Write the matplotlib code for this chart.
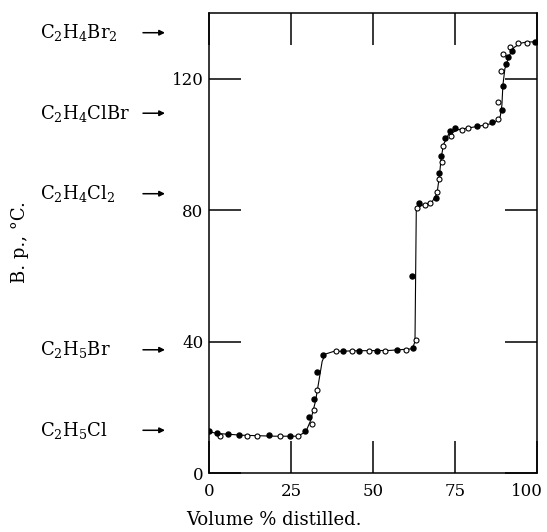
import numpy as np
import matplotlib
matplotlib.use("Agg")
import matplotlib.pyplot as plt
import matplotlib.transforms as mtransforms

plt.rcParams['font.family'] = ['DejaVu Serif']
plt.rcParams['mathtext.fontset'] = 'dejavuserif'

# filled circles (one run)
filled_x = [0, 2.4, 5.8, 9.1, 18.3, 24.7, 29.3, 30.5, 32.0, 33.0, 34.8, 40.9, 45.7,
            51.2, 57.3, 62.2, 61.9, 64.0, 69.2, 70.1, 70.7, 72.0, 73.5, 75.0, 81.7,
            86.2, 89.3, 89.6, 90.5, 91.2, 92.4, 99.4]
filled_y = [12.8, 12.2, 11.9, 11.6, 11.5, 11.3, 12.8, 17.0, 22.6, 30.8, 36.0, 37.0, 37.2,
            37.2, 37.3, 38.1, 60.0, 82.3, 83.8, 91.4, 96.6, 102.0, 104.0, 104.9, 105.5,
            106.7, 110.5, 117.7, 124.4, 126.5, 128.4, 131.1]

# open circles (second run)
open_x = [3.5, 11.6, 14.6, 21.6, 27.0, 31.4, 32.0, 33.0, 38.7, 43.6, 48.8, 53.7, 60.0,
          63.1, 63.4, 65.9, 67.4, 69.5, 70.0, 71.0, 71.3, 73.8, 77.1, 79.0, 84.1, 88.1,
          88.1, 89.0, 89.6, 91.8, 94.2, 97.0]
open_y = [11.4, 11.3, 11.2, 11.3, 11.2, 15.0, 19.2, 25.3, 37.0, 37.2, 37.2, 37.2, 37.3,
          40.5, 80.8, 81.6, 82.3, 85.4, 89.6, 94.8, 99.4, 102.5, 104.3, 104.9, 105.8,
          107.6, 112.8, 122.3, 127.4, 129.6, 130.8, 131.0]

# drawn curve through the points
curve_x = [0, 3, 10, 20, 27, 29.5, 31, 32.5, 33.5, 34.5, 35.5, 38, 45, 55, 62, 62.8, 63.2,
           65, 68, 69.5, 70.2, 70.8, 71.5, 73, 76, 82, 87, 88.8, 89.3, 89.6, 90.2, 91.5,
           93, 95, 97, 100]
curve_y = [12.5, 12, 11.5, 11.2, 11.2, 12.5, 16, 22, 28, 34, 36.2, 37, 37.2, 37.3, 37.8,
           40, 80.5, 81.5, 82.5, 85, 90, 96, 100, 103, 104.5, 105.5, 106.5, 108.5, 112,
           118, 123, 127, 129.5, 130.8, 131.2, 131.2]

# compounds marked at the left
compounds = [r'$\mathrm{C_2H_4Br_2}$', r'$\mathrm{C_2H_4ClBr}$', r'$\mathrm{C_2H_4Cl_2}$',
             r'$\mathrm{C_2H_5Br}$', r'$\mathrm{C_2H_5Cl}$']
compound_bp = [134, 109.5, 85, 37.5, 13]

fig = plt.figure(figsize=(5.47, 5.32), dpi=100)
ax = fig.add_axes([209/547, 1-473/532, (537-209)/547, (473-13)/532])

ax.plot(curve_x, curve_y, color='k', lw=0.8, zorder=1)
ax.plot(filled_x, filled_y, 'o', ms=3.6, mfc='k', mec='k', zorder=3)
ax.plot(open_x, open_y, 'o', ms=3.6, mfc='white', mec='k', mew=0.8, zorder=2)

ax.set_xlim(0, 100)
ax.set_ylim(0, 140)
ax.set_xticks([0, 25, 50, 75, 100])
ax.set_yticks([0, 40, 80, 120])
ax.tick_params(direction='in', length=23, width=1.1, top=True, right=True,
               labelsize=12, color='k')
ax.tick_params(axis='x', pad=7)
ax.tick_params(axis='y', pad=4)
for s in ax.spines.values():
    s.set_linewidth(1.1)

# the "100" label sits a little left of its tick in the original
fig.canvas.draw()
lab = ax.get_xticklabels()[-1]
lab.set_transform(lab.get_transform() + mtransforms.ScaledTranslation(-10/100, 0, fig.dpi_scale_trans))

fig.text(20/547, 1-242/532, 'B. p., °C.', rotation=90, ha='center', va='center', fontsize=13)
fig.text(0.5, 1-520/532, 'Volume % distilled.', ha='center', va='center', fontsize=13)

trans = mtransforms.blended_transform_factory(fig.transFigure, ax.transData)
for name, bp in zip(compounds, compound_bp):
    fig.text(40/547, bp, name, transform=trans, ha='left', va='center', fontsize=13)
    ax.annotate('', xy=(165/547, bp), xytext=(143/547, bp),
                xycoords=trans, textcoords=trans, annotation_clip=False,
                arrowprops=dict(arrowstyle='-|>', color='k', lw=1.1, mutation_scale=8,
                                shrinkA=0, shrinkB=0))

plt.savefig('out.png', dpi=100)
